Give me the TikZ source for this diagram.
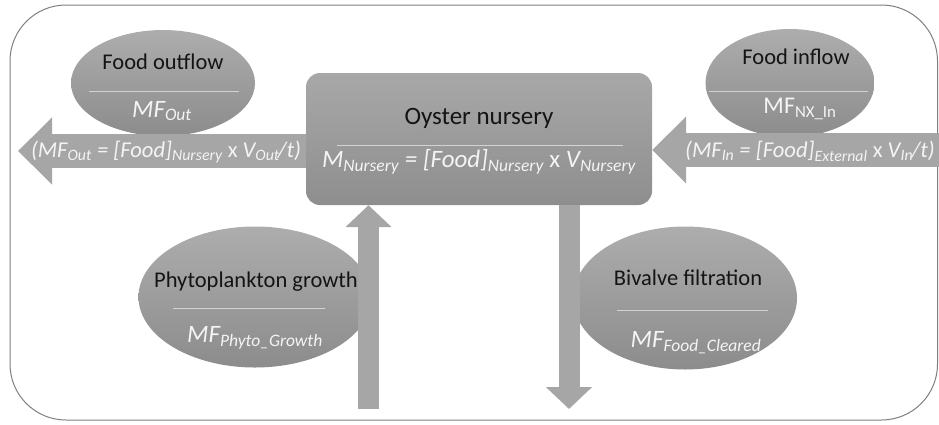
\documentclass[tikz,border=0pt]{standalone}
\usepackage{fontspec}
\setmainfont{Carlito}
\usetikzlibrary{arrows.meta,shapes.geometric,calc}

\definecolor{bubbleTop}{HTML}{ADADAD}
\definecolor{bubbleBot}{HTML}{8C8C8C}
\definecolor{boxTop}{HTML}{A8A8A8}
\definecolor{boxBot}{HTML}{8E8E8E}
\definecolor{arrowFill}{HTML}{A6A6A6}
\definecolor{frameLine}{HTML}{7F7F7F}
\definecolor{ruleLine}{HTML}{D2D2D2}
\definecolor{formulaText}{HTML}{F4F4F4}
\definecolor{titleText}{HTML}{141414}

% italic subscript in running text
\newcommand{\lo}[1]{\textsubscript{\itshape #1}}

\begin{document}
\begin{tikzpicture}[x=1pt,y=-1pt,
  bubble/.style={ellipse, draw=none, top color=bubbleTop, bottom color=bubbleBot, inner sep=0pt},
  bubbletitle/.style={text=titleText, font=\fontsize{22.5}{26}\selectfont, inner sep=0pt},
  formulatext/.style={text=formulaText, font=\fontsize{25}{28}\selectfont\itshape, inner sep=0pt},
  arrowtext/.style={text=formulaText, font=\fontsize{22.6}{26}\selectfont\itshape, inner sep=0pt},
  divider/.style={ruleLine, line width=0.8pt},
  flowH/.style={arrowFill, line width=34pt, -{Triangle[width=65pt,length=34pt]}},
  flowV/.style={arrowFill, line width=21pt, -{Triangle[width=45pt,length=22pt]}},
]
\useasboundingbox (0,0) rectangle (939,424);

% outer frame
\draw[frameLine, line width=1pt, rounded corners=56pt] (10,5) rectangle (937.5,420);

% central store
\node[draw=none, rounded corners=14pt, top color=boxTop, bottom color=boxBot,
      minimum width=346pt, minimum height=132pt, inner sep=0pt] (nursery) at (479,139) {};
\node[bubbletitle, font=\fontsize{25}{28}\selectfont] (nurseryTitle) at (479,118) {Oyster nursery};
\draw[divider] (337,145) -- (623,145);
\node[formulatext] (nurseryMass) at (479,162)
  {M\lo{Nursery} = [Food]\lo{Nursery} {\upshape x} V\lo{Nursery}};

% flux bubbles
\node[bubble, minimum width=184pt, minimum height=106pt] (outflow) at (163,83) {};
\node[bubble, minimum width=169pt, minimum height=108pt] (inflow) at (790,83) {};
\node[bubble, minimum width=233pt, minimum height=141pt] (growth) at (255,297) {};
\node[bubble, minimum width=224pt, minimum height=143pt] (filtration) at (685,298) {};

\node[bubbletitle] (outflowTitle) at (163,62) {Food outflow};
\draw[divider] (89,91) -- (239,91);
\node[formulatext] (outflowRate) at (162,111) {MF\lo{Out}};

\node[bubbletitle] (inflowTitle) at (796,57) {Food inflow};
\draw[divider] (709,91) -- (868,91);
\node[formulatext, font=\fontsize{24}{28}\selectfont\upshape] (inflowRate) at (800,109) {MF\textsubscript{NX\_In}};

\node[bubbletitle] (growthTitle) at (256,282) {Phytoplankton growth};
\draw[divider] (173,308) -- (325,308);
\node[formulatext] (growthRate) at (255,338) {MF\lo{Phyto\_Growth}};

\node[bubbletitle] (filtrationTitle) at (688,278) {Bivalve filtration};
\draw[divider] (617,310) -- (768,310);
\node[formulatext] (filtrationRate) at (696,343) {MF\lo{Food\_Cleared}};

% flux arrows
\coordinate (outTip) at (18,151);
\coordinate (inTail) at (939,150);
\coordinate (growthTail) at (368.5,409);
\coordinate (clearTip) at (569,409);

\draw[flowH] (nursery.west |- outTip) -- (outTip);
\draw[flowH] (inTail) -- (nursery.east |- inTail);
\draw[flowV] (growthTail) -- (nursery.south -| growthTail);
\draw[flowV] (nursery.south -| clearTip) -- (clearTip);

\node[arrowtext] (outLabel) at (166,152)
  {(MF\lo{Out} = [Food]\lo{Nursery} {\upshape x} V\lo{Out}\kern-2pt/t)};
\node[arrowtext] (inLabel) at (810,151)
  {(MF\lo{In} = [Food]\lo{External} {\upshape x} V\lo{In}\kern-1.5pt/t)};
\end{tikzpicture}
\end{document}
